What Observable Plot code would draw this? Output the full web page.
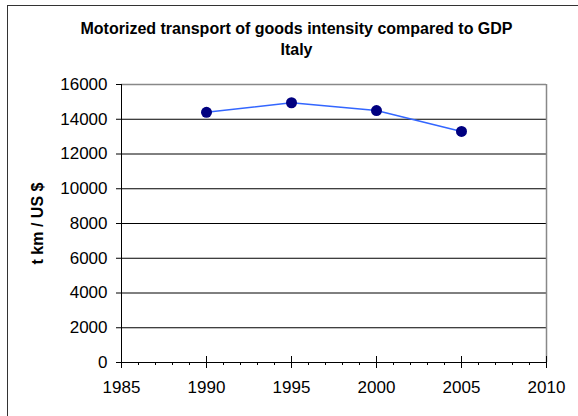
<!DOCTYPE html>
<html><head><meta charset="utf-8">
<script src="https://cdn.jsdelivr.net/npm/d3@7"></script>
<script src="https://cdn.jsdelivr.net/npm/@observablehq/plot@0.6"></script>
<style>
body{margin:0;background:#fff;}
#wrap{position:relative;width:578px;height:416px;overflow:hidden;background:#fff}
#border{position:absolute;left:7px;top:5px;width:600px;height:500px;border-left:1px solid #333;border-top:1px solid #333;pointer-events:none}
#wrap svg{position:absolute;left:0;top:0}
</style></head><body><div id="wrap"><div id="border"></div></div>
<script>
const years = [1990, 1995, 2000, 2005];
const intensity = [14400, 14950, 14500, 13300];
const yTicks = [0, 2000, 4000, 6000, 8000, 10000, 12000, 14000, 16000];
const xTicks = [1985, 1990, 1995, 2000, 2005, 2010];
const minorYears = [1986,1987,1988,1989,1991,1992,1993,1994,1996,1997,1998,1999,2001,2002,2003,2004,2006,2007,2008,2009];
const title = "Motorized transport of goods intensity compared to GDP\nItaly";
const yLabel = "t km / US $";

const data = years.map((y, i) => ({year: y, value: intensity[i]}));
const font = "Arial, 'Liberation Sans', sans-serif";

const chart = Plot.plot({
  width: 578, height: 416,
  marginTop: 84, marginLeft: 121, marginRight: 32, marginBottom: 54,
  style: {fontFamily: font, background: "transparent", color: "#000", overflow: "visible"},
  x: {domain: [1985, 2010]},
  y: {domain: [0, 16000]},
  marks: [
    Plot.ruleY(yTicks.filter(d => d > 0 && d < 16000), {stroke: "#000", strokeWidth: 1}),
    Plot.ruleY([16000], {stroke: "#888", strokeWidth: 1.5}),
    Plot.ruleX([2010], {stroke: "#888", strokeWidth: 1.5}),
    Plot.axisY({ticks: yTicks, tickSize: 5, tickPadding: 9, label: null, stroke: "#000", fill: "#000", tickFormat: d => String(d)}),
    Plot.axisX({ticks: xTicks, tickSize: 0, tickPadding: 18, label: null, tickFormat: d => String(d), fill: "#000"}),
    Plot.ruleX(minorYears, {y1: 0, y2: 0, insetBottom: -3, stroke: "#000"}),
    Plot.ruleX(xTicks, {y1: 0, y2: 0, insetTop: -6, insetBottom: -6, stroke: "#000"}),
    Plot.ruleX([1985], {stroke: "#000"}),
    Plot.ruleY([0], {stroke: "#000"}),
    Plot.line(data, {x: "year", y: "value", stroke: "#3366ff", strokeWidth: 1.6}),
    Plot.dot(data, {x: "year", y: "value", r: 5.5, fill: "#000080", stroke: "none"}),
    Plot.text([title], {frameAnchor: "top", lineAnchor: "bottom", lineHeight: 1.3125, dx: -37.5, dy: -30, fontSize: 16, fontWeight: "bold", fill: "#000"}),
    Plot.text([yLabel], {frameAnchor: "left", rotate: -90, dx: -84, dy: 0, fontSize: 16, fontWeight: "bold", fill: "#000", textAnchor: "middle", lineAnchor: "middle"})
  ]
});
// enlarge axis tick labels (everything that is not the bold title/label text)
chart.querySelectorAll("text").forEach(t => {
  const g = t.closest("g");
  const bold = (g && g.getAttribute("font-weight") === "bold") || t.getAttribute("font-weight") === "bold";
  if (!bold) t.style.fontSize = "17px";
});
document.getElementById("wrap").appendChild(chart);
</script>
</body></html>
